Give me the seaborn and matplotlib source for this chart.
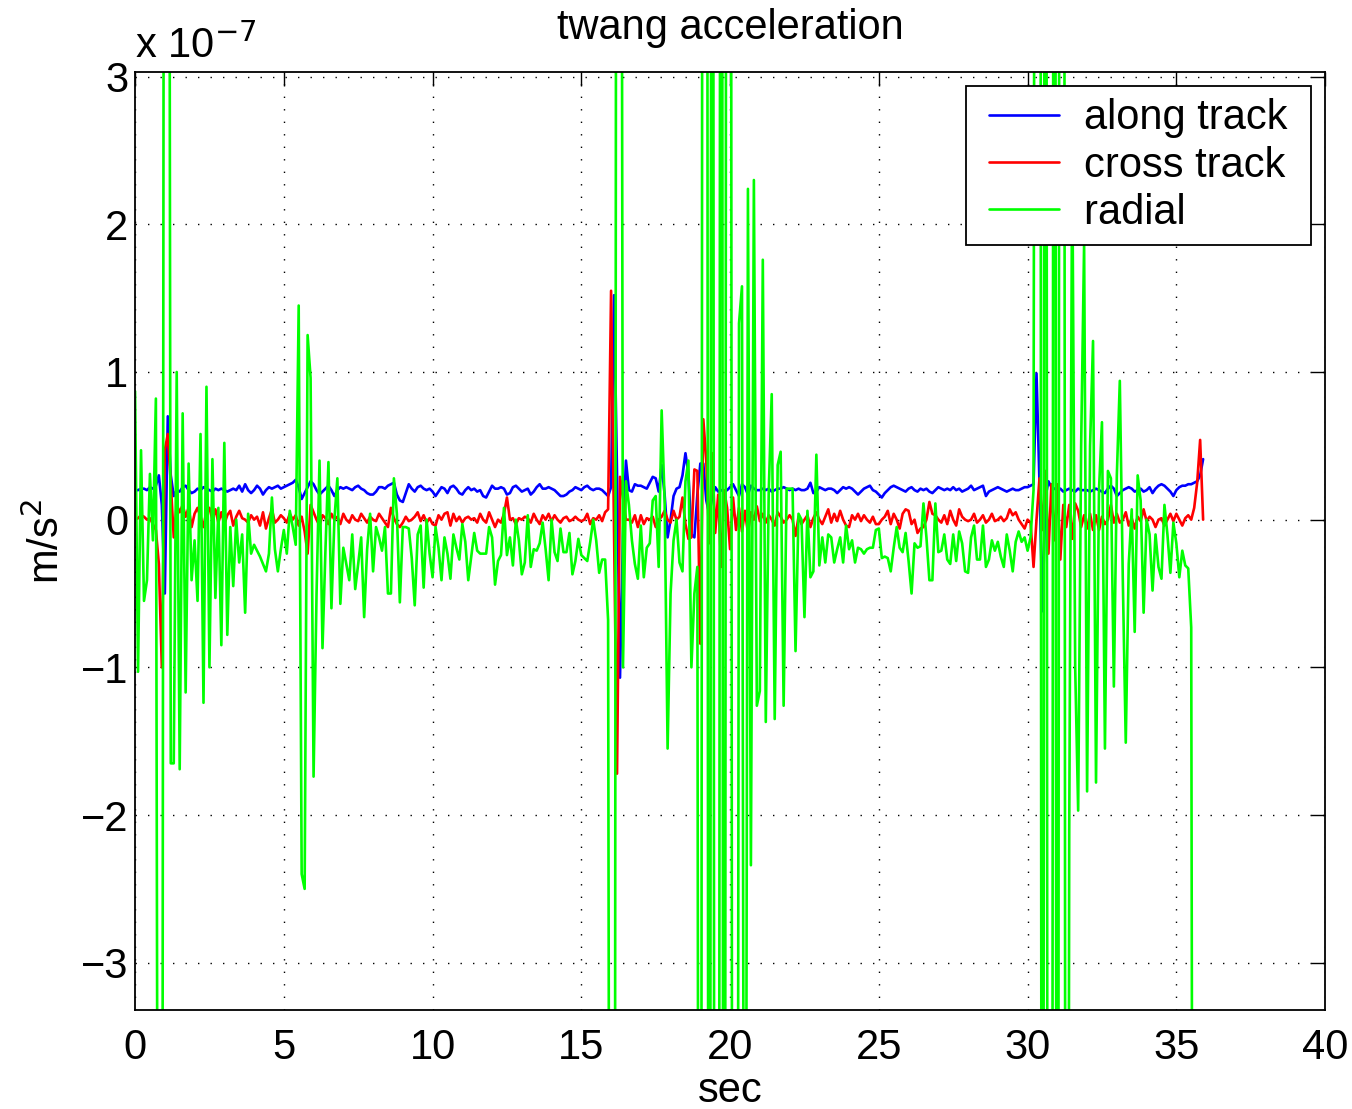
import numpy as np
import pandas as pd
import matplotlib
matplotlib.use("Agg")
import matplotlib.pyplot as plt
from matplotlib.legend_handler import HandlerLine2D
import seaborn as sns

# sample times (s), one sample every 0.1 s
t = np.round(np.arange(360) * 0.1, 1)

# accelerations in units of 1e-7 m/s^2, one row per second
along_track = [
    0.20, 0.20, 0.21, 0.21, 0.20, 0.22, 0.21, 0.23, 0.30, 0.10,
    -0.50, 0.70, 0.30, 0.16, 0.20, 0.19, 0.22, 0.23, 0.20, 0.18,
    0.19, 0.21, 0.20, 0.22, 0.21, 0.20, 0.19, 0.21, 0.20, 0.21,
    0.20, 0.19, 0.20, 0.21, 0.20, 0.23, 0.19, 0.24, 0.20, 0.18,
    0.20, 0.23, 0.21, 0.17, 0.20, 0.22, 0.21, 0.22, 0.23, 0.21,
    0.22, 0.23, 0.24, 0.25, 0.27, 0.22, 0.14, 0.18, 0.22, 0.26,
    0.24, 0.20, 0.17, 0.19, 0.21, 0.23, 0.20, 0.16, 0.20, 0.22,
    0.21, 0.22, 0.21, 0.20, 0.22, 0.23, 0.21, 0.20, 0.18, 0.17,
    0.17, 0.19, 0.22, 0.22, 0.21, 0.23, 0.24, 0.25, 0.17, 0.13,
    0.12, 0.18, 0.24, 0.21, 0.19, 0.22, 0.23, 0.21, 0.20, 0.21,
    0.19, 0.16, 0.19, 0.22, 0.21, 0.18, 0.22, 0.23, 0.21, 0.18,
    0.17, 0.20, 0.22, 0.20, 0.21, 0.19, 0.20, 0.16, 0.15, 0.19,
    0.23, 0.21, 0.21, 0.22, 0.21, 0.17, 0.18, 0.22, 0.23, 0.21,
    0.19, 0.20, 0.21, 0.17, 0.19, 0.22, 0.24, 0.21, 0.21, 0.22,
    0.21, 0.20, 0.18, 0.16, 0.16, 0.17, 0.19, 0.20, 0.22, 0.21,
    0.20, 0.22, 0.23, 0.21, 0.20, 0.21, 0.21, 0.20, 0.18, 0.16,
    0.22, 1.52, 0.30, -1.07, -0.10, 0.40, 0.20, 0.19, 0.24, 0.23,
    0.23, 0.22, 0.21, 0.25, 0.29, 0.28, 0.19, 0.37, 0.17, -0.12,
    0.00, 0.16, 0.21, 0.22, 0.30, 0.45, 0.31, -0.10, -0.12, 0.17,
    0.38, 0.38, 0.13, 0.04, 0.15, 0.22, 0.19, 0.20, 0.19, 0.20,
    0.22, 0.24, 0.20, 0.16, 0.24, 0.22, 0.17, 0.23, 0.21, 0.20,
    0.20, 0.21, 0.20, 0.21, 0.19, 0.20, 0.21, 0.21, 0.22, 0.21,
    0.20, 0.21, 0.20, 0.21, 0.20, 0.20, 0.21, 0.25, 0.18, 0.19,
    0.22, 0.21, 0.20, 0.21, 0.21, 0.20, 0.18, 0.20, 0.22, 0.21,
    0.22, 0.21, 0.19, 0.17, 0.19, 0.21, 0.22, 0.23, 0.20, 0.19,
    0.17, 0.15, 0.18, 0.20, 0.22, 0.23, 0.22, 0.21, 0.20, 0.19,
    0.21, 0.22, 0.20, 0.19, 0.21, 0.20, 0.21, 0.19, 0.18, 0.20,
    0.22, 0.21, 0.20, 0.21, 0.20, 0.22, 0.20, 0.21, 0.19, 0.20,
    0.21, 0.23, 0.20, 0.21, 0.22, 0.23, 0.16, 0.19, 0.20, 0.21,
    0.22, 0.21, 0.20, 0.19, 0.20, 0.21, 0.20, 0.20, 0.21, 0.22,
    0.22, 0.23, 0.24, 0.99, 0.25, -0.62, 0.15, 0.26, 0.22, 0.21,
    0.20, 0.21, 0.19, 0.20, 0.21, 0.20, 0.19, 0.21, 0.20, 0.20,
    0.20, 0.19, 0.20, 0.21, 0.20, 0.19, 0.18, 0.21, 0.23, 0.21,
    0.16, 0.18, 0.20, 0.21, 0.22, 0.21, 0.19, 0.20, 0.21, 0.19,
    0.20, 0.22, 0.18, 0.21, 0.23, 0.24, 0.23, 0.21, 0.19, 0.16,
    0.20, 0.22, 0.23, 0.23, 0.24, 0.24, 0.25, 0.26, 0.30, 0.41,
]

cross_track = [
    0.00, 0.01, 0.03, 0.02, 0.00, 0.01, -0.03, -0.07, -0.30, -1.00,
    0.47, 0.58, 0.25, -0.12, 0.10, 0.05, 0.10, 0.02, 0.08, -0.05,
    0.04, 0.08, 0.02, -0.05, 0.06, 0.08, 0.00, 0.07, -0.02, 0.05,
    -0.03, 0.03, 0.06, -0.04, 0.02, 0.06, 0.01, 0.00, -0.02, 0.03,
    0.00, 0.02, -0.04, 0.05, -0.06, 0.01, 0.07, -0.02, 0.00, 0.03,
    0.01, -0.02, 0.04, 0.00, 0.03, -0.04, 0.02, -0.08, -0.23, 0.10,
    0.05, 0.00, -0.04, 0.03, 0.01, -0.03, 0.04, 0.00, 0.02, -0.03,
    0.04, 0.00, -0.02, 0.03, 0.00, -0.01, 0.04, 0.01, -0.02, 0.02,
    0.00, -0.01, 0.04, 0.01, -0.02, -0.05, 0.08, 0.01, -0.03, -0.05,
    -0.02, 0.02, -0.01, 0.00, 0.02, 0.05, -0.01, 0.03, -0.02, 0.01,
    -0.03, -0.04, 0.03, 0.00, 0.04, 0.05, -0.04, 0.04, -0.01, 0.02,
    -0.02, 0.01, 0.02, 0.00, 0.01, -0.02, 0.04, 0.00, -0.02, 0.05,
    0.00, -0.05, 0.00, -0.02, 0.04, 0.15, 0.00, 0.01, -0.03, 0.01,
    0.00, 0.02, 0.01, -0.02, 0.04, 0.00, -0.03, 0.03, 0.00, 0.04,
    -0.01, 0.03, 0.00, -0.02, 0.01, 0.02, -0.01, 0.00, 0.02, 0.00,
    -0.01, 0.00, 0.04, -0.03, 0.01, 0.00, 0.03, -0.01, 0.05, 0.07,
    1.55, -0.10, -1.72, 0.29, 0.15, 0.00, 0.00, -0.02, 0.03, -0.05,
    0.03, -0.03, 0.01, 0.00, 0.02, -0.05, 0.00, 0.02, 0.06, 0.00,
    -0.02, 0.06, 0.00, 0.02, 0.15, -0.03, -0.13, -0.12, 0.34, 0.33,
    -0.84, 0.68, 0.40, -0.16, 0.45, -0.09, 0.17, -0.32, 0.20, 0.08,
    -0.20, 0.15, -0.07, 0.08, -0.08, 0.06, -0.09, 0.05, 0.00, 0.09,
    -0.01, 0.04, -0.02, 0.03, 0.00, -0.04, 0.05, 0.02, -0.02, 0.00,
    0.03, 0.00, -0.11, 0.02, -0.03, 0.00, 0.03, -0.05, 0.01, 0.05,
    0.00, -0.03, 0.02, 0.07, -0.02, 0.04, -0.01, 0.06, 0.00, -0.04,
    -0.05, 0.03, 0.00, 0.04, -0.01, 0.03, 0.00, -0.02, 0.02, -0.03,
    -0.03, 0.00, 0.02, 0.06, -0.03, 0.04, 0.00, -0.06, 0.04, 0.07,
    0.06, -0.03, 0.00, -0.09, -0.06, -0.05, 0.00, 0.12, 0.04, 0.03,
    0.00, -0.02, 0.03, -0.03, 0.06, 0.00, -0.04, 0.07, 0.02, 0.00,
    -0.01, 0.00, 0.04, -0.02, 0.00, 0.03, -0.02, 0.00, 0.04, -0.01,
    0.00, 0.02, -0.01, 0.01, 0.07, 0.03, 0.05, 0.00, -0.03, -0.06,
    0.00, -0.02, -0.32, 0.00, 0.28, -0.07, 0.33, -0.23, 0.24, -0.14,
    0.24, -0.27, 0.10, -0.05, 0.10, -0.13, 0.11, 0.06, -0.05, 0.03,
    -0.06, 0.04, -0.07, 0.03, -0.07, 0.02, -0.03, 0.00, 0.10, -0.02,
    0.04, -0.02, 0.00, 0.05, -0.04, 0.01, -0.06, 0.02, -0.01, 0.07,
    -0.01, 0.02, 0.00, -0.05, 0.00, 0.01, -0.04, 0.00, 0.04, -0.01,
    0.04, 0.00, -0.04, 0.01, 0.03, 0.00, 0.08, 0.25, 0.54, 0.00,
]

radial = [
    0.87, -1.03, 0.47, -0.55, -0.41, 0.31, -0.14, 0.82, -9.00, -9.00,
    12.0, 12.0, -1.65, -1.65, 1.00, -1.69, 0.72, -1.17, 0.38, -0.41,
    -0.14, -0.55, 0.58, -1.24, 0.90, -1.00, 0.41, -0.53, 0.08, -0.85,
    0.52, -0.78, -0.05, -0.45, 0.00, -0.29, -0.10, -0.63, 0.04, -0.23,
    -0.17, -0.21, -0.25, -0.30, -0.35, -0.23, 0.15, -0.20, -0.35, -0.20,
    -0.07, -0.23, 0.06, -0.05, -0.17, 1.45, -2.40, -2.50, 1.25, 0.96,
    -1.74, -0.50, 0.40, -0.87, -0.20, 0.39, -0.60, 0.00, 0.28, -0.57,
    -0.19, -0.30, -0.41, -0.10, -0.47, -0.30, -0.12, -0.66, -0.20, 0.04,
    -0.35, -0.05, -0.12, -0.21, -0.05, -0.50, -0.50, 0.28, 0.04, -0.56,
    -0.05, -0.05, -0.06, -0.26, -0.58, -0.10, -0.04, -0.46, 0.00, -0.23,
    -0.39, -0.05, -0.19, -0.41, -0.12, -0.23, -0.40, -0.10, -0.19, -0.27,
    -0.03, -0.15, -0.41, -0.25, -0.09, -0.21, -0.23, -0.23, -0.23, -0.05,
    -0.12, -0.44, -0.28, -0.24, 0.08, -0.24, -0.12, -0.31, 0.00, -0.14,
    -0.37, -0.29, 0.03, -0.32, -0.20, -0.21, -0.16, -0.02, -0.20, -0.41,
    0.00, -0.22, -0.28, -0.06, -0.22, -0.22, -0.09, -0.37, -0.28, -0.13,
    -0.24, -0.26, -0.28, -0.15, 0.00, -0.14, -0.36, -0.27, -0.27, -0.68,
    -12.0, -12.0, 12.0, 12.0, -1.00, 0.26, 0.10, -0.14, -0.30, -0.40,
    -0.04, -0.39, -0.19, -0.16, 0.13, 0.16, -0.32, 0.74, 0.13, -1.55,
    -0.50, -0.14, 0.00, -0.29, -0.35, 0.26, 0.40, -1.00, -0.50, -0.32,
    -15.0, 15.0, 15.0, -15.0, 15.0, -15.0, -15.0, 15.0, -15.0, 15.0,
    15.0, -15.0, -15.0, 1.33, 1.58, -9.00, 2.24, -2.34, 2.30, -1.26,
    -1.16, 1.76, -1.37, 0.20, 0.85, -1.35, 0.37, 0.46, -1.26, 0.21,
    0.21, 0.21, -0.89, 0.04, 0.00, -0.66, 0.06, -0.39, -0.35, 0.44,
    -0.31, -0.12, -0.29, -0.10, -0.12, -0.29, -0.20, -0.12, -0.29, -0.04,
    -0.20, -0.14, -0.29, -0.19, -0.20, -0.23, -0.20, -0.19, -0.19, -0.07,
    -0.06, -0.26, -0.25, -0.26, -0.35, -0.19, -0.05, -0.19, -0.22, -0.09,
    -0.28, -0.50, -0.16, -0.19, -0.18, 0.11, -0.12, -0.41, -0.41, 0.11,
    -0.22, -0.21, -0.10, -0.27, -0.30, -0.10, -0.28, -0.08, -0.16, -0.35,
    -0.36, -0.12, -0.04, -0.27, -0.27, -0.04, -0.32, -0.27, -0.14, -0.21,
    -0.15, -0.25, -0.32, -0.10, -0.21, -0.35, -0.15, -0.08, -0.15, -0.12,
    -0.21, -0.12, 0.20, 15.0, 15.0, -15.0, 15.0, -15.0, -15.0, 15.0,
    -15.0, 15.0, 15.0, -15.0, -2.10, 2.50, -1.00, -1.97, 0.50, 1.87,
    -1.84, 0.50, 1.21, -1.78, 0.20, 0.66, -1.55, 0.33, 0.28, -1.13,
    0.30, 0.94, -0.40, -1.51, -0.30, 0.07, -0.76, 0.30, 0.13, -0.63,
    0.00, -0.10, -0.48, -0.10, -0.32, -0.40, 0.10, -0.10, -0.36, -0.02,
    -0.16, -0.39, -0.21, -0.31, -0.33, -0.73, -12.0, -14.0, -15.0, -15.0,
]

series_names = ["along track", "cross track", "radial"]
series_colors = ["#0000ff", "#ff0000", "#00ff00"]

df = pd.concat([
    pd.DataFrame({"sec": t, "acc": np.array(v) * 1e-7, "component": name})
    for name, v in zip(series_names, [along_track, cross_track, radial])
])
# plot in units of 1e-7, the exponent is written above the axis like MATLAB does
df["acc_scaled"] = df["acc"] / 1e-7

sns.set_style("white")
plt.rcParams["font.family"] = ["Liberation Sans", "DejaVu Sans"]
plt.rcParams["axes.unicode_minus"] = True
plt.rcParams["text.color"] = "black"
plt.rcParams["axes.labelcolor"] = "black"
plt.rcParams["xtick.color"] = "black"
plt.rcParams["ytick.color"] = "black"

FS = 30

fig = plt.figure(figsize=(13.52, 11.09), dpi=100)
ax = fig.add_axes([0.0999, 0.0893, 0.8802, 0.8456])

sns.lineplot(data=df, x="sec", y="acc_scaled", hue="component",
             hue_order=series_names, palette=dict(zip(series_names, series_colors)),
             estimator=None, sort=False, linewidth=1.9, ax=ax)

ax.set_xlim(0, 40)
ax.set_ylim(-3.32, 3.03)
ax.set_xticks(np.arange(0, 41, 5))
ax.set_yticks(np.arange(-3, 4, 1))
ax.tick_params(direction="in", length=10, width=1.0, top=True, right=True,
               labelsize=FS, colors="black")
ax.tick_params(axis="x", pad=13)
ax.tick_params(axis="y", pad=5)
for s in ax.spines.values():
    s.set_linewidth(1.3)
    s.set_color("black")
ax.grid(True, color="black", linestyle=(0, (1, 8)), linewidth=1.0)

ax.set_xlabel("sec", fontsize=FS, labelpad=2, color="black")
ax.set_ylabel("m/s$^2$", fontsize=FS, labelpad=9, color="black")
ax.set_title("twang acceleration", fontsize=FS, pad=24, color="black")
ax.text(0.0, 1.006, r"x 10$^{-7}$", transform=ax.transAxes, fontsize=FS,
        ha="left", va="bottom", color="black")

handles, labels = ax.get_legend_handles_labels()
leg = ax.legend(handles, [lab + " " for lab in labels], loc="upper right",
                fontsize=FS, frameon=True, fancybox=False, framealpha=1,
                edgecolor="black", borderaxespad=0.33, handlelength=1.93,
                handletextpad=0.6, labelspacing=0.17, borderpad=0.3,
                handler_map={h: HandlerLine2D(xpad=0.25) for h in handles})
leg.get_frame().set_linewidth(1.3)
for line in leg.get_lines():
    line.set_linewidth(1.9)
for txt in leg.get_texts():
    txt.set_color("black")

fig.savefig("out.png", dpi=100)
